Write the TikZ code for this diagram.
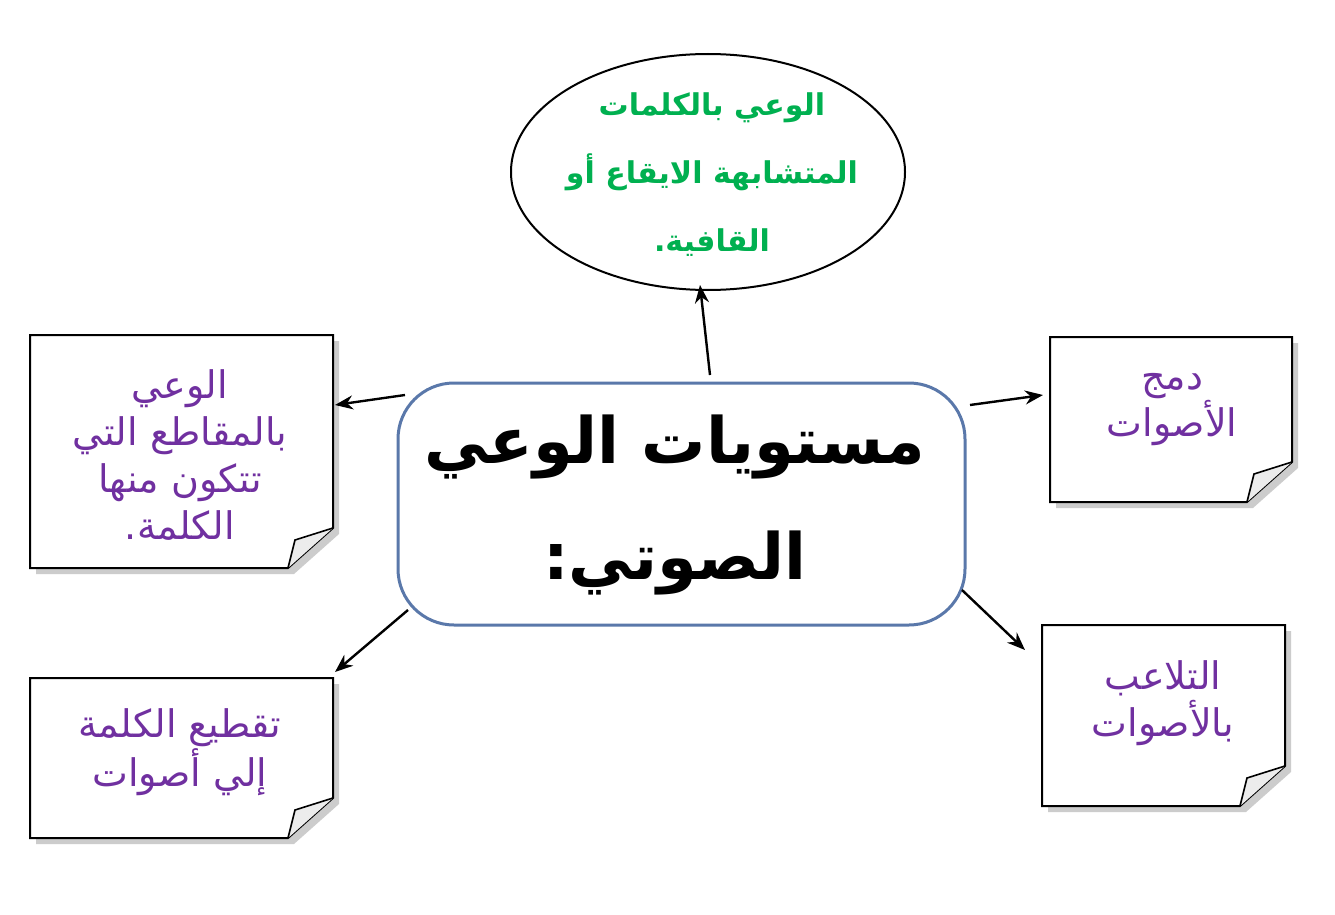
\documentclass[tikz,border=0pt]{standalone}
\usepackage{fontspec}
\TeXXeTstate=1
\newfontfamily\arabicfont[Script=Arabic]{DejaVu Sans}
\usetikzlibrary{shapes.geometric,arrows.meta}
\definecolor{purp}{RGB}{112,48,160}
\definecolor{grn}{RGB}{0,176,80}
\definecolor{bord}{RGB}{90,120,170}
\tikzset{
  conn/.style={-{Stealth[length=9pt,width=7pt]},line width=1.2pt,black},
  notetxt/.style={font=\arabicfont\fontsize{19}{23.5}\selectfont, text=purp, align=center}
}
\newcommand{\notebox}[5]{% x1 y1 x2 y2 name
  \fill[gray!40] (#1+6,#2+6) -- (#3+6,#2+6) -- (#3+6,#4-40+6) -- (#3-45+6,#4+6) -- (#1+6,#4+6) -- cycle;
  \draw[line width=1pt,fill=white] (#1,#2) -- (#3,#2) -- (#3,#4-40) -- (#3-45,#4) -- (#1,#4) -- cycle;
  \draw[line width=0.8pt,fill=gray!15] (#3,#4-40) -- (#3-38,#4-28) -- (#3-45,#4) ;
  \coordinate (#5) at ({(#1+#3)/2},{(#2+#4)/2});
}
\begin{document}
\begin{tikzpicture}[x=0.5pt,y=-0.5pt]
\useasboundingbox (0,0) rectangle (1335,915);
\fill[white] (0,0) rectangle (1335,915);
% ellipse
\node[draw,ellipse,line width=1pt,minimum width=197pt,minimum height=118pt,inner sep=0] (ell) at (708,172) {};
\node[font=\arabicfont\bfseries\fontsize{15}{34}\selectfont,text=grn,align=center] (ellt) at (712,175)
 {\beginR الوعي بالكلمات\endR\\ \beginR المتشابهة الايقاع أو\endR\\ \beginR القافية.\endR};
% center
\draw[bord,line width=1.5pt,fill=white,rounded corners=28pt] (398,383) rectangle (965,625);
\node[font=\arabicfont\bfseries\fontsize{32}{58}\selectfont,align=center] (ctr) at (675,505)
 {\beginR مستويات الوعي\endR\\ \beginR الصوتي:\endR};
% notes
\notebox{30}{335}{333}{568}{n1}
\notebox{1050}{337}{1292}{502}{n2}
\notebox{30}{678}{333}{838}{n3}
\notebox{1042}{625}{1285}{806}{n4}
\node[notetxt] (t1) at (180,455) {\beginR الوعي\endR\\ \beginR بالمقاطع التي\endR\\ \beginR تتكون منها\endR\\ \beginR الكلمة.\endR};
\node[notetxt] (t2) at (1172,410) {\beginR دمج\endR\\ \beginR الأصوات\endR};
\node[notetxt] (t3) at (180,752) {\beginR تقطيع الكلمة\endR\\ \beginR إلي أصوات\endR};
\node[notetxt] (t4) at (1163,703) {\beginR التلاعب\endR\\ \beginR بالأصوات\endR};
% arrows
\coordinate (a1s) at (710,375); \coordinate (a1e) at (700,285);
\draw[conn] (a1s) -- (a1e);
\coordinate (a2s) at (405,395); \coordinate (a2e) at (335,405);
\draw[conn] (a2s) -- (a2e);
\coordinate (a3s) at (970,405); \coordinate (a3e) at (1043,395);
\draw[conn] (a3s) -- (a3e);
\coordinate (a4s) at (408,610); \coordinate (a4e) at (335,672);
\draw[conn] (a4s) -- (a4e);
\coordinate (a5s) at (962,590); \coordinate (a5e) at (1025,650);
\draw[conn] (a5s) -- (a5e);
\end{tikzpicture}
\end{document}
